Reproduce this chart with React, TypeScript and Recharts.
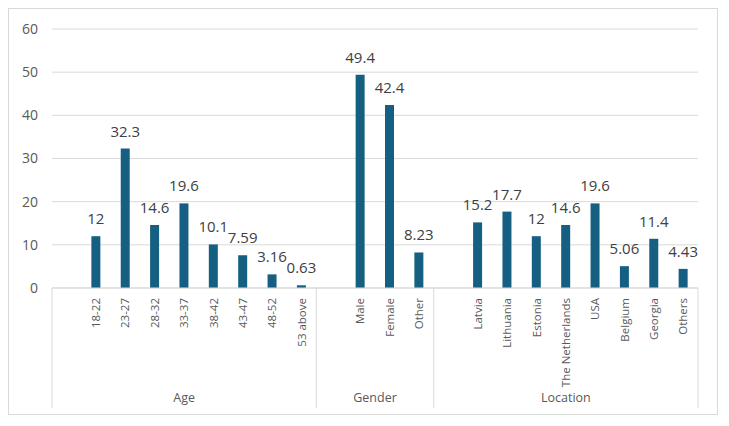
import { BarChart, Bar, XAxis, YAxis, CartesianGrid, LabelList } from 'recharts';

// Categories and values
const ageLabels = ['18-22', '23-27', '28-32', '33-37', '38-42', '43-47', '48-52', '53 above'];
const ageValues = [12, 32.3, 14.6, 19.6, 10.1, 7.59, 3.16, 0.63];

const genderLabels = ['Male', 'Female', 'Other'];
const genderValues = [49.4, 42.4, 8.23];

const locationLabels = ['Latvia', 'Lithuania', 'Estonia', 'The Netherlands', 'USA', 'Belgium', 'Georgia', 'Others'];
const locationValues = [15.2, 17.7, 12, 14.6, 19.6, 5.06, 11.4, 4.43];

const yTicks = [0, 10, 20, 30, 40, 50, 60];

const groups = [
  { name: 'Age', labels: ageLabels, values: ageValues },
  { name: 'Gender', labels: genderLabels, values: genderValues },
  { name: 'Location', labels: locationLabels, values: locationValues },
];

type Row = { key: string; label: string; value: number | null; group: string; start: boolean; size: number };

// each group gets an empty slot in front of it, like the Excel chart
const rows: Row[] = [];
groups.forEach((g) => {
  rows.push({ key: `gap-${g.name}`, label: '', value: null, group: g.name, start: true, size: g.labels.length + 1 });
  g.labels.forEach((l, i) => {
    rows.push({ key: `${g.name}-${l}`, label: l, value: g.values[i], group: g.name, start: false, size: 0 });
  });
});

const W = 708;
const H = 405;
const LEFT = 43;
const RIGHT = 19;
const BAND = (W - LEFT - RIGHT) / rows.length;
const FONT = '"Open Sans", sans-serif';
const BAR = '#156082';
const GRID = '#d9d9d9';

const CategoryTick = (props: any) => {
  const { x, y, index } = props;
  const row = rows[index];
  if (!row) return null;
  const isLast = index === rows.length - 1;
  return (
    <g>
      {row.label && (
        <text
          x={x}
          y={y + 10}
          dy="0.35em"
          transform={`rotate(-90, ${x}, ${y + 10})`}
          textAnchor="end"
          fontSize={11.5}
          fill="#595959"
          fontFamily={FONT}
        >
          {row.label}
        </text>
      )}
      {row.start && (
        <>
          <line x1={x - BAND / 2} x2={x - BAND / 2} y1={y} y2={y + 120} stroke={GRID} />
          <text
            x={x - BAND / 2 + (row.size * BAND) / 2}
            y={y + 114}
            textAnchor="middle"
            fontSize={12.5}
            fill="#595959"
            fontFamily={FONT}
          >
            {row.group}
          </text>
        </>
      )}
      {isLast && <line x1={x + BAND / 2} x2={x + BAND / 2} y1={y} y2={y + 120} stroke={GRID} />}
    </g>
  );
};

export default function App() {
  return (
    <div style={{ width: W, height: H, border: `1px solid ${GRID}`, background: '#fff' }}>
      <BarChart width={W} height={H} data={rows} margin={{ top: 20, right: RIGHT, left: 0, bottom: 0 }}>
        <CartesianGrid vertical={false} stroke={GRID} />
        <XAxis
          dataKey="key"
          interval={0}
          height={126}
          tickSize={0}
          tickMargin={0}
          stroke={GRID}
          tick={<CategoryTick />}
        />
        <YAxis
          width={LEFT}
          domain={[0, 60]}
          ticks={yTicks}
          axisLine={false}
          tickLine={false}
          tickSize={0}
          tickMargin={14}
          tick={{ fontSize: 14, fill: '#595959', fontFamily: FONT }}
        />
        <Bar dataKey="value" fill={BAR} barSize={9} isAnimationActive={false}>
          <LabelList dataKey="value" position="top" offset={12} fontSize={15} fill="#404040" fontFamily={FONT} />
        </Bar>
      </BarChart>
    </div>
  );
}
